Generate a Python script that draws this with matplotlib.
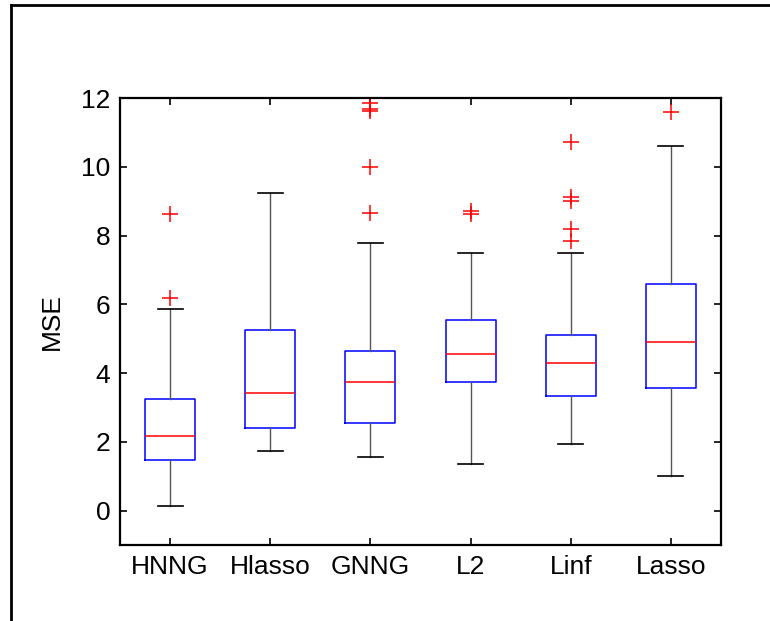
import matplotlib
matplotlib.use("Agg")
import matplotlib.pyplot as plt
from matplotlib.lines import Line2D

plt.rcParams["font.family"] = ["Liberation Sans", "DejaVu Sans"]

METHODS = ["HNNG", "Hlasso", "GNNG", "L2", "Linf", "Lasso"]
WHISKER_LOW = [0.12, 1.73, 1.56, 1.36, 1.93, 1.02]
Q1 = [1.48, 2.40, 2.54, 3.74, 3.33, 3.57]
MEDIAN = [2.18, 3.41, 3.74, 4.56, 4.28, 4.89]
Q3 = [3.24, 5.25, 4.64, 5.54, 5.10, 6.58]
WHISKER_HIGH = [5.87, 9.24, 7.77, 7.49, 7.49, 10.61]
OUTLIERS = [
    [6.18, 8.64],
    [],
    [8.67, 9.99, 11.62, 11.68, 11.86],
    [8.64, 8.72],
    [7.84, 8.18, 9.00, 9.11, 10.73],
    [11.58],
]


def build_stats():
    stats = []
    for i, name in enumerate(METHODS):
        stats.append({
            "label": name,
            "whislo": WHISKER_LOW[i],
            "q1": Q1[i],
            "med": MEDIAN[i],
            "q3": Q3[i],
            "whishi": WHISKER_HIGH[i],
            "fliers": OUTLIERS[i],
        })
    return stats


fig = plt.figure(figsize=(7.7, 6.21), dpi=100)
ax = fig.add_axes([120 / 770, 1 - 545 / 621, 601 / 770, 447 / 621])

ax.bxp(
    build_stats(),
    positions=range(1, len(METHODS) + 1),
    widths=0.5,
    patch_artist=False,
    boxprops=dict(color="blue", linewidth=1.1),
    medianprops=dict(color="red", linewidth=1.1),
    whiskerprops=dict(color="#555555", linewidth=1.0),
    capprops=dict(color="black", linewidth=1.2),
    flierprops=dict(marker="+", markeredgecolor="red", markersize=11,
                    markeredgewidth=1.1, linestyle="none"),
)

ax.set_xlim(0.5, 6.5)
ax.set_ylim(-1, 12)
ax.set_yticks(range(0, 13, 2))
ax.set_xticklabels(METHODS)
ax.set_ylabel("MSE", fontsize=19, labelpad=12)

ax.tick_params(direction="in", length=5, width=1.2, labelsize=19,
               top=True, right=True, pad=7)
for spine in ax.spines.values():
    spine.set_linewidth(1.6)

# outer frame drawn round the figure (left and top edges)
fig.add_artist(Line2D([11 / 770, 11 / 770], [0, 1 - 5 / 621],
                      color="black", linewidth=2))
fig.add_artist(Line2D([11 / 770, 1], [1 - 5 / 621, 1 - 5 / 621],
                      color="black", linewidth=2))

fig.savefig("out.png", dpi=100)
